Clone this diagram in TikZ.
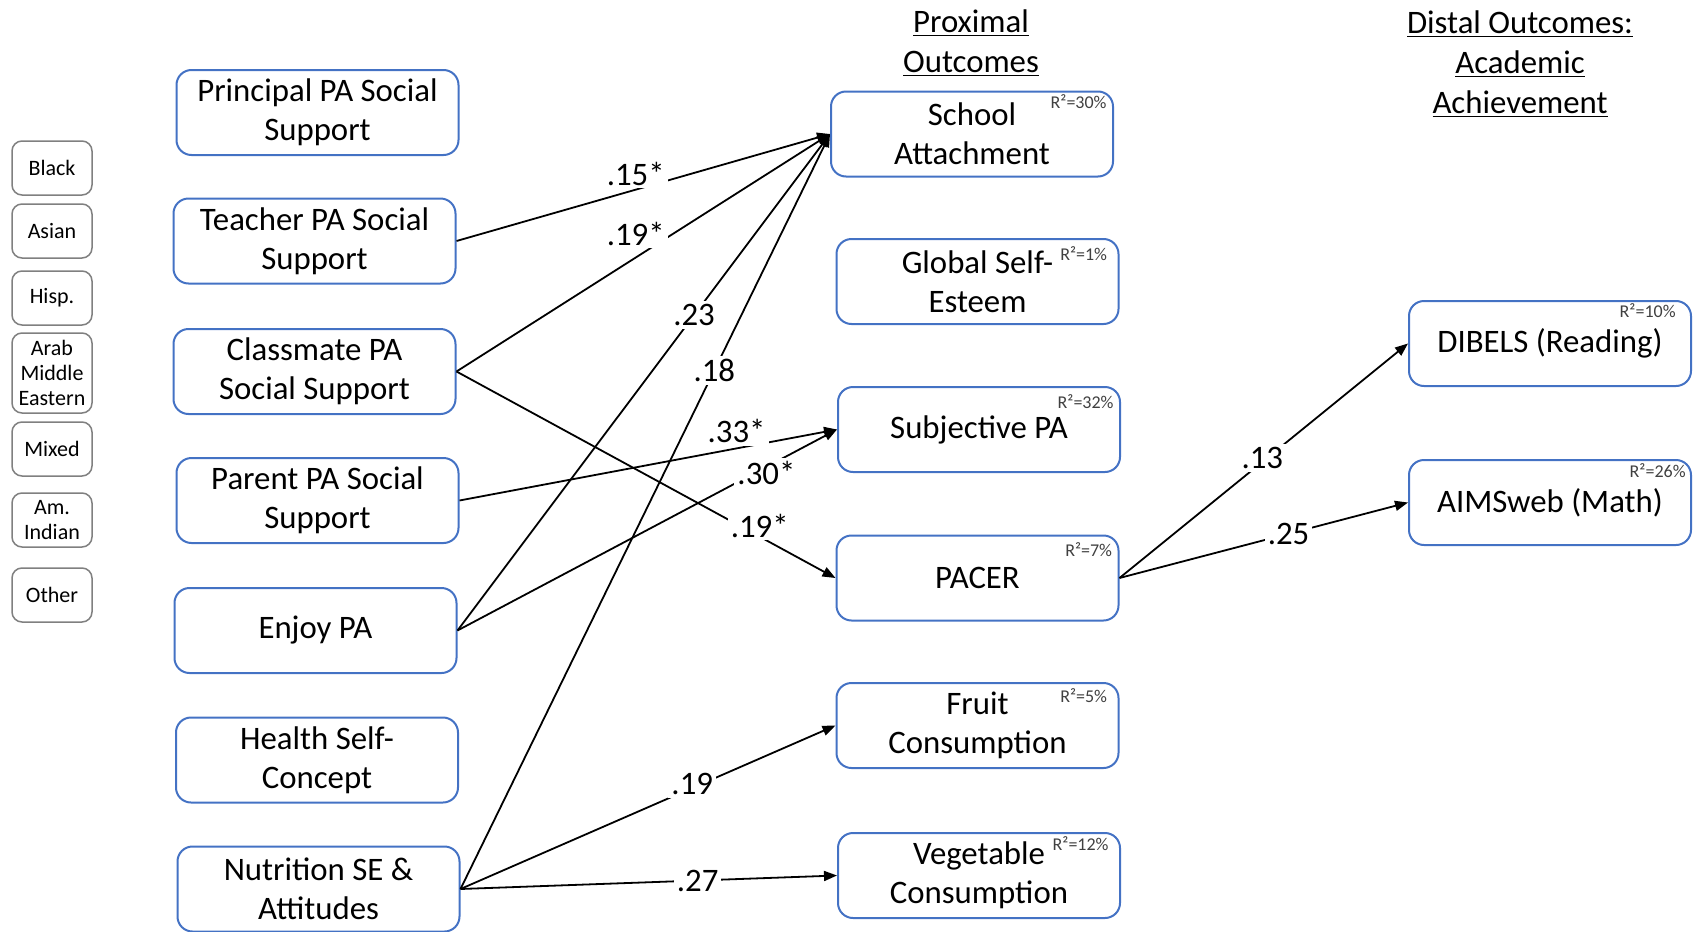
\documentclass[tikz,border=0pt]{standalone}
\usepackage{fontspec}
\setmainfont{Carlito}
\usetikzlibrary{arrows.meta}
\definecolor{boxblue}{HTML}{4472C4}

\begin{document}
\begin{tikzpicture}[x=0.5pt, y=-0.5pt,
    outcome/.style={draw=boxblue, line width=1pt, rounded corners=7.5pt,
        minimum width=141pt, minimum height=42.5pt, inner sep=0pt,
        align=center, font=\fontsize{16.4}{19.5}\selectfont},
    group/.style={draw=black!50, line width=0.75pt, rounded corners=5pt,
        minimum width=40pt, minimum height=27pt, inner sep=0pt,
        align=center, font=\fontsize{11}{12.5}\selectfont},
    rsq/.style={anchor=east, inner sep=0pt, text=black!75,
        font=\fontsize{9}{10}\selectfont},
    coef/.style={fill=white, inner sep=1.5pt, font=\fontsize{16.4}{19}\selectfont},
    link/.style={-{Triangle[length=6.5pt,width=5pt]}, line width=0.9pt},
    heading/.style={align=center, font=\fontsize{16.4}{20}\selectfont}]

    \useasboundingbox (0,0) rectangle (1694,932);

    % ethnicity covariates
    \node[group] (black) at (52,168) {Black};
    \node[group] (asian) at (52,231) {Asian};
    \node[group] (hisp) at (52,298) {Hisp.};
    \node[group, minimum height=40pt] (arab) at (52,373) {Arab\\Middle\\Eastern};
    \node[group] (mixed) at (52,449) {Mixed};
    \node[group] (amind) at (52,520) {Am.\\Indian};
    \node[group] (other) at (52,595) {Other};

    % predictors
    \node[outcome] (principal) at (317.5,112.5) {Principal PA Social\\Support};
    \node[outcome] (teacher) at (314.5,241) {Teacher PA Social\\Support};
    \node[outcome] (classmate) at (314.5,371.5) {Classmate PA\\Social Support};
    \node[outcome] (parent) at (317.5,500.5) {Parent PA Social\\Support};
    \node[outcome] (enjoy) at (315.5,630.5) {Enjoy PA};
    \node[outcome] (health) at (317,760) {Health Self-\\Concept};
    \node[outcome] (nutrition) at (318.5,889) {Nutrition SE \&\\Attitudes};

    % proximal outcomes
    \node[heading] (proxhead) at (971,43) {\underline{Proximal}\\\underline{Outcomes}};
    \node[outcome] (school) at (972,134) {School\\Attachment};
    \node[outcome] (esteem) at (977.5,281.5) {Global Self-\\Esteem};
    \node[outcome] (subjective) at (979,429.5) {Subjective PA};
    \node[outcome] (pacer) at (977.5,578) {PACER};
    \node[outcome] (fruit) at (977.5,725.5) {Fruit\\Consumption};
    \node[outcome] (vegetable) at (979,875.5) {Vegetable\\Consumption};

    % distal outcomes
    \node[heading] (disthead) at (1520,64) {\underline{Distal Outcomes:}\\\underline{Academic}\\\underline{Achievement}};
    \node[outcome] (dibels) at (1550,343.5) {DIBELS (Reading)};
    \node[outcome] (aims) at (1550,502.5) {AIMSweb (Math)};

    % explained variance
    \node[rsq, xshift=-3.5pt, yshift=-5.5pt] at (school.north east) {R²=30\%};
    \node[rsq, xshift=-6pt, yshift=-8pt] at (esteem.north east) {R²=1\%};
    \node[rsq, xshift=-3.5pt, yshift=-8pt] at (subjective.north east) {R²=32\%};
    \node[rsq, xshift=-3.5pt, yshift=-7.5pt] at (pacer.north east) {R²=7\%};
    \node[rsq, xshift=-6pt, yshift=-7pt] at (fruit.north east) {R²=5\%};
    \node[rsq, xshift=-6pt, yshift=-6pt] at (vegetable.north east) {R²=12\%};
    \node[rsq, xshift=-8pt, yshift=-5.5pt] at (dibels.north east) {R²=10\%};
    \node[rsq, xshift=-3pt, yshift=-6pt] at (aims.north east) {R²=26\%};

    % paths
    \draw[link] (teacher.east) -- node[coef, pos=.48, yshift=8pt] {.15*} (school.west);
    \draw[link] (classmate.east) -- node[coef, pos=.48, yshift=12pt] {.19*} (school.west);
    \draw[link] (enjoy.east) -- node[coef, pos=.635] {.23} (school.west);
    \draw[link] (nutrition.east) -- node[coef, pos=.687] {.18} (school.west);
    \draw[link] (parent.east) -- node[coef, pos=.734, yshift=8.5pt] {.33*} (subjective.west);
    \draw[link] (enjoy.east) -- node[coef, pos=.814, yshift=-3pt] {.30*} (subjective.west);
    \draw[link] (classmate.east) -- node[coef, pos=.8, yshift=5.5pt] {.19*} (pacer.west);
    \draw[link] (nutrition.east) -- node[coef, pos=.618, yshift=2pt] {.19} (fruit.west);
    \draw[link] (nutrition.east) -- node[coef, pos=.63] {.27} (vegetable.west);
    \draw[link] (pacer.east) -- node[coef, pos=.495, yshift=2pt] {.13} (dibels.west);
    \draw[link] (pacer.east) -- node[coef, pos=.586] {.25} (aims.west);
\end{tikzpicture}
\end{document}
